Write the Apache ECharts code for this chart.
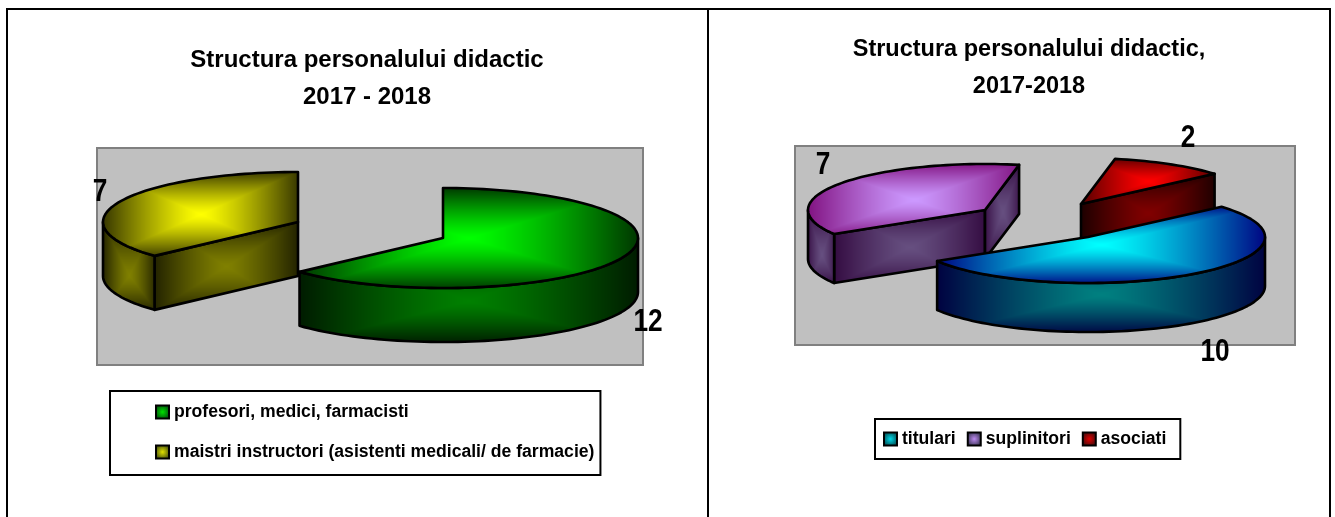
<!DOCTYPE html>
<html><head><meta charset="utf-8">
<style>html,body{margin:0;padding:0;background:#fff}#c{width:1335px;height:517px}</style>
<script src="https://cdn.jsdelivr.net/npm/echarts@6/dist/echarts.min.js"></script>
</head><body><div id="c"></div>
<script>
// ---- data ----
const leftTitle = 'Structura personalului didactic\n2017 - 2018';
const rightTitle = 'Structura personalului didactic,\n2017-2018';
const leftCategories = ['profesori, medici, farmacisti', 'maistri instructori (asistenti medicali/ de farmacie)'];
const leftValues = [12, 7];
const rightCategories = ['titulari', 'suplinitori', 'asociati'];
const rightValues = [10, 7, 2];

// ---- layout and style ----
const W = 1335, H = 517;
const FRAME = '#000';
const leftPie = { rx: 195, ry: 50, depth: 54, startAngle: 0, order: [0, 1],
  centers: [[443, 238], [298, 222]], labels: [[648, 322], [100, 192]] };
const rightPie = { rx: 177, ry: 46, depth: 49, startAngle: 49, order: [2, 1, 0],
  centers: [[1088, 237], [985, 210], [1081, 204]], labels: [[1215, 352], [823, 165], [1188, 138]] };
const leftColors = [
  { top: ['#00ff00', '#003300'], wall: ['#008000', '#001a00'], icon: '#00e000' },
  { top: ['#ffff00', '#333300'], wall: ['#808000', '#1f1f00'], icon: '#e0e000' }
];
const rightColors = [
  { top: ['#00ffff', '#000080'], wall: ['#008080', '#000040'], icon: '#00d8e8' },
  { top: ['#cc99ff', '#80107f'], wall: ['#664f80', '#330a40'], icon: '#bb88ee' },
  { top: ['#ff0000', '#500000'], wall: ['#800000', '#1a0000'], icon: '#e00000' }
];

const hex = s => [1, 3, 5].map(i => parseInt(s.substr(i, 2), 16));

// Excel style rectangular "from centre" gradient over a box, painted per pixel
function boxGradient(pts, colors, cyFrac) {
  const xs = pts.map(p => p[0]), ys = pts.map(p => p[1]);
  const x0 = Math.floor(Math.min(...xs)) - 2, x1 = Math.ceil(Math.max(...xs)) + 2;
  const y0 = Math.floor(Math.min(...ys)) - 2, y1 = Math.ceil(Math.max(...ys)) + 2;
  const w = x1 - x0, h = y1 - y0;
  const cx = x0 + w / 2, cy = y0 + h * cyFrac;
  const a = hex(colors[0]), b = hex(colors[1]);
  const cv = document.createElement('canvas');
  cv.width = W; cv.height = H;
  const g = cv.getContext('2d');
  const img = g.createImageData(w, h);
  for (let y = 0; y < h; y++) for (let x = 0; x < w; x++) {
    const px = x0 + x, py = y0 + y;
    const tx = Math.abs(px - cx) / (w / 2);
    const ty = py < cy ? (cy - py) / (cy - y0) : (py - cy) / (y1 - cy);
    const t = Math.pow(Math.max(tx, ty), 1.25);
    const o = (y * w + x) * 4;
    for (let k = 0; k < 3; k++) img.data[o + k] = a[k] + (b[k] - a[k]) * t;
    img.data[o + 3] = 255;
  }
  g.putImageData(img, x0, y0);
  return { image: cv, repeat: 'no-repeat' };
}

function sliceSeries(names, values, pie, colors) {
  const total = values.reduce((a, b) => a + b, 0);
  const spans = [];
  let a = pie.startAngle;
  values.forEach(v => { spans.push([a, a + v / total * 360]); a += v / total * 360; });
  return pie.order.map(i => {
    const c = pie.centers[i], span = spans[i], col = colors[i];
    const pt = (deg, dz) => {
      const r = deg * Math.PI / 180;
      return [c[0] + pie.rx * Math.sin(r), c[1] - pie.ry * Math.cos(r) + dz];
    };
    const arc = (from, to, dz) => {
      const out = [], n = Math.max(2, Math.ceil(Math.abs(to - from) / 2));
      for (let k = 0; k <= n; k++) out.push(pt(from + (to - from) * k / n, dz));
      return out;
    };
    const stroke = { stroke: '#000', lineWidth: 2.6, lineJoin: 'round' };
    const face = (points, cols, cyFrac) => ({
      type: 'polygon', shape: { points }, style: Object.assign({ fill: boxGradient(points, cols, cyFrac) }, stroke)
    });
    const wallBetween = (p, q) => [p, q, [q[0], q[1] + pie.depth], [p[0], p[1] + pie.depth]];
    const norm = d => ((d % 360) + 360) % 360;
    const children = [];
    // radial walls facing the viewer
    const s = norm(span[0]), e = norm(span[1]);
    if (s > 180 && s < 360) children.push(face(wallBetween(c, pt(span[0], 0)), col.wall, 0.5));
    if (e > 0 && e < 180) children.push(face(wallBetween(c, pt(span[1], 0)), col.wall, 0.5));
    // visible part of the curved wall (90..270 degrees, front of the ellipse)
    const from = Math.max(span[0], 90), to = Math.min(span[1], 270);
    if (to > from) {
      const upper = arc(from, to, 0), lower = arc(to, from, pie.depth);
      children.push(face(upper.concat(lower), col.wall, 0.6));
    }
    const top = [c].concat(arc(span[0], span[1], 0));
    children.push(face(top, col.top, 0.5));
    children.push({
      type: 'text', z2: 50, x: pie.labels[i][0], y: pie.labels[i][1], scaleX: 0.82, style: {
        x: 0, y: 0, text: String(values[i]), fill: '#000',
        font: 'bold 32px "Liberation Sans",Arial,sans-serif',
        align: 'center', verticalAlign: 'middle'
      }
    });
    return {
      type: 'custom', name: names[i], coordinateSystem: 'none', z: 3,
      itemStyle: {
        color: { type: 'radial', x: 0.5, y: 0.5, r: 0.75, colorStops: [
          { offset: 0, color: col.icon }, { offset: 1, color: '#001010' }] },
        borderColor: '#000', borderWidth: 2
      },
      data: [[values[i]]],
      renderItem: () => ({ type: 'group', children })
    };
  });
}

const titleFont = (fontSize) => ({ fontFamily: '"Liberation Sans",Arial,sans-serif', fontWeight: 'bold', fontSize, lineHeight: 37, color: '#000' });
const legendText = { fontFamily: '"Liberation Sans",Arial,sans-serif', fontWeight: 'bold', fontSize: 17.6, color: '#000' };

const rect = (x, y, w, h, fill, st, lw) => ({
  type: 'rect', z: 0, shape: { x, y, width: w, height: h }, style: { fill, stroke: st, lineWidth: lw }, silent: true
});

const chart = echarts.init(document.getElementById('c'), null, { renderer: 'canvas', width: W, height: H });
chart.setOption({
  animation: false,
  backgroundColor: '#fff',
  title: [
    { text: leftTitle, left: 362, top: 37, textAlign: 'center', textStyle: titleFont(24) },
    { text: rightTitle, left: 1024, top: 26, textAlign: 'center', textStyle: titleFont(23.5) }
  ],
  legend: [
    { data: leftCategories, orient: 'vertical', left: 110, top: 391, padding: [12, 6, 14, 45], itemGap: 22,
      itemWidth: 13, itemHeight: 13, icon: 'rect', selectedMode: false, textStyle: legendText,
      borderColor: FRAME, borderWidth: 2, backgroundColor: '#fff', align: 'left' },
    { data: rightCategories, orient: 'horizontal', left: 875, top: 419, padding: [11, 14, 11, 8], itemGap: 11,
      itemWidth: 13, itemHeight: 13, icon: 'rect', selectedMode: false, textStyle: legendText,
      borderColor: FRAME, borderWidth: 2, backgroundColor: '#fff' }
  ],
  graphic: [
    rect(7, 9, 1323, 520, 'transparent', FRAME, 2),
    { type: 'line', z: 0, shape: { x1: 708, y1: 9, x2: 708, y2: 517 }, style: { stroke: FRAME, lineWidth: 2 }, silent: true },
    rect(97, 148, 546, 217, '#c0c0c0', '#808080', 2),
    rect(795, 146, 500, 199, '#c0c0c0', '#808080', 2)
  ],
  series: sliceSeries(leftCategories, leftValues, leftPie, leftColors)
    .concat(sliceSeries(rightCategories, rightValues, rightPie, rightColors))
});
</script></body></html>
